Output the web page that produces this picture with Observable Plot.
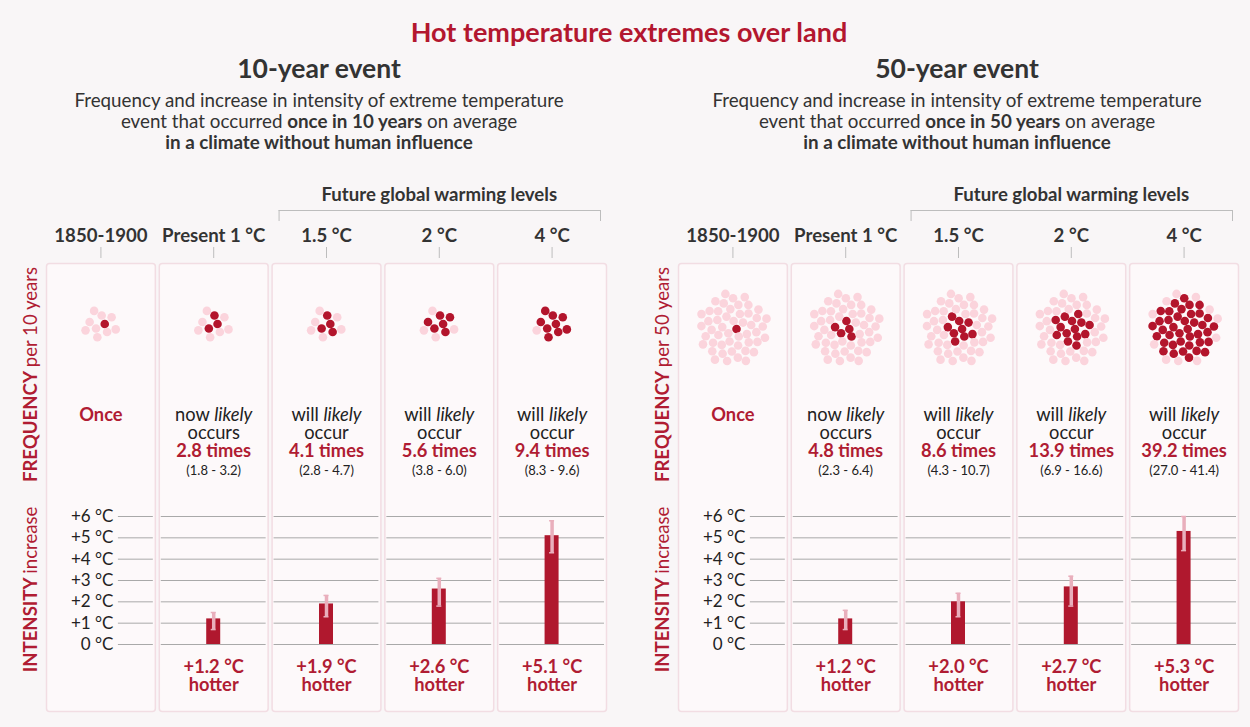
<!DOCTYPE html>
<html><head><meta charset="utf-8">
<script src="https://cdn.jsdelivr.net/npm/d3@7"></script>
<script src="https://cdn.jsdelivr.net/npm/@observablehq/plot@0.6"></script>
<style>
body{margin:0;background:#f9f6f7;font-family:Lato,sans-serif;color:#333;width:1250px;height:727px;position:relative;overflow:hidden}
#title{position:absolute;top:16px;left:4px;width:1250px;text-align:center;font-size:27px;line-height:32px;font-weight:bold;color:#b3172f}
.head{position:absolute;top:50px;width:640px;text-align:center;color:#333}
.head h2{margin:0;font-size:26.5px;font-weight:bold;line-height:36px}
.head p{margin:3px 0 0;font-size:18.8px;line-height:21px}
.panel{position:absolute;top:160px;width:625px;height:557px}
.panel svg{max-width:none !important}
</style></head>
<body>
<div id="title">Hot temperature extremes over land</div>
<div class="head" style="left:-1px"><h2>10-year event</h2><p>Frequency and increase in intensity of extreme temperature<br>event that occurred <b>once in 10 years</b> on average<br><b>in a climate without human influence</b></p></div>
<div class="head" style="left:637px"><h2>50-year event</h2><p>Frequency and increase in intensity of extreme temperature<br>event that occurred <b>once in 50 years</b> on average<br><b>in a climate without human influence</b></p></div>
<div class="panel" id="p10" style="left:0px"></div>
<div class="panel" id="p50" style="left:632px"></div>
<script>
// ---------- data ----------
const periods = ["1850-1900", "Present 1 °C", "1.5 °C", "2 °C", "4 °C"];
const futureLabel = "Future global warming levels";
const yTicks = [0, 1, 2, 3, 4, 5, 6];
const yTickLabels = ["0 °C", "+1 °C", "+2 °C", "+3 °C", "+4 °C", "+5 °C", "+6 °C"];
const verbs = ["", "now", "will", "will", "will"];

const freq10 = [1, 2.8, 4.1, 5.6, 9.4];
const freq10Lo = [null, 1.8, 2.8, 3.8, 8.3];
const freq10Hi = [null, 3.2, 4.7, 6.0, 9.6];
const int10 = [null, 1.2, 1.9, 2.6, 5.1];
const int10Lo = [null, 0.7, 1.3, 1.8, 4.3];
const int10Hi = [null, 1.5, 2.3, 3.1, 5.8];

const freq50 = [1, 4.8, 8.6, 13.9, 39.2];
const freq50Lo = [null, 2.3, 4.3, 6.9, 27.0];
const freq50Hi = [null, 6.4, 10.7, 16.6, 41.4];
const int50 = [null, 1.2, 2.0, 2.7, 5.3];
const int50Lo = [null, 0.7, 1.3, 1.8, 4.4];
const int50Hi = [null, 1.6, 2.4, 3.2, 6.0];

// ---------- layout ----------
const RED = "#b01c33", BAR = "#b0182e", DARK = "#b3152c", LIGHT = "#fbd4dc", ERR = "#e9afbc";
const FS = 18.3;
const SVGTOP = 160, TOP = 263, BOTTOM = 711, Y0 = 644, Y6 = 516;
const k = (Y0 - Y6) / 6;
const yAt = py => (Y0 - py) / k;
const W = 625, ML = 46, MR = 19, H = 557;
const MT = TOP - SVGTOP, MB = SVGTOP + H - BOTTOM;
const P = 0.035;
const step = (W - ML - MR) / (periods.length - P);
const bw = step * (1 - P);

// sunflower layout of n dots (pixel offsets), centre first
function cluster(n, c) {
  const g = Math.PI * (3 - Math.sqrt(5));
  return d3.range(n).map(i => {
    const r = c * Math.sqrt(i + 0.5), a = i * g;
    return {x: r * Math.cos(a), y: r * Math.sin(a)};
  });
}

function panel(cfg) {
  const idx = d3.range(periods.length);
  const later = idx.filter(i => i > 0);
  const fx = i => periods[i];
  const cl = cluster(cfg.total, cfg.spacing);
  const dots = [];
  idx.forEach(i => cl.forEach((c, j) => dots.push({i, x: c.x, y: yAt(cfg.cyPage) - c.y / k, dark: j < Math.round(cfg.freq[i])})));
  const grid = [];
  idx.forEach(i => yTicks.forEach(v => grid.push({i, v})));
  const f1 = d3.format(".1f");
  const txt = {fontSize: FS, frameAnchor: "top", lineAnchor: "middle"};
  const svg = Plot.plot({
    width: W, height: H,
    marginLeft: ML, marginRight: MR, marginTop: MT, marginBottom: MB,
    style: {fontFamily: "Lato, sans-serif", background: "transparent", overflow: "visible", maxWidth: "none"},
    fx: {domain: periods, paddingInner: P, paddingOuter: 0, round: false, axis: null},
    x: {domain: [-bw / 2, bw / 2], axis: null},
    y: {domain: [yAt(BOTTOM), yAt(TOP)], axis: null},
    marks: [
      Plot.frame({fill: "#fdf9fa", stroke: "#f2dde3", strokeWidth: 1.5, rx: 3}),
      // column headers
      Plot.text(idx, {...txt, fx, text: i => periods[i], dy: -27, fontWeight: "bold", fill: "#333", fontSize: 18.6}),
      Plot.ruleX(idx, {fx, x: 0, y1: yAt(247), y2: yAt(258), stroke: "#bdbdbd"}),
      Plot.text([3], {...txt, fx, text: () => futureLabel, dy: -68, fontWeight: "bold", fill: "#333", fontSize: 18.6}),
      Plot.ruleY([3], {fx, y: yAt(210), x1: -step - bw / 2 + 7, x2: step + bw / 2 - 6, stroke: "#bdbdbd"}),
      Plot.ruleX([3], {fx, x: -step - bw / 2 + 7, y1: yAt(210), y2: yAt(221), stroke: "#bdbdbd"}),
      Plot.ruleX([3], {fx, x: step + bw / 2 - 6, y1: yAt(210), y2: yAt(221), stroke: "#bdbdbd"}),
      // side labels
      Plot.text([0], {...txt, fx, x: -69.5, dy: 111, rotate: -90, textAnchor: "middle", text: () => "FREQUENCY " + cfg.per, fill: RED, fontSize: 18.6}),
      Plot.text([0], {...txt, fx, x: -69.5, dy: 326, rotate: -90, textAnchor: "middle", text: () => "INTENSITY increase", fill: RED, fontSize: 18.6}),
      // dots
      Plot.dot(dots, {fx: d => periods[d.i], x: "x", y: "y", r: 4.3, fill: d => d.dark ? DARK : LIGHT, stroke: null}),
      // frequency texts
      Plot.text([0], {...txt, fx, text: () => "Once", dy: 152, fontWeight: "bold", fill: RED}),
      Plot.text(later, {...txt, fx, text: i => verbs[i] + " likely", dy: 152, fill: "#222"}),
      Plot.text(later, {...txt, fx, text: i => verbs[i] === "now" ? "occurs" : "occur", dy: 170, fill: "#222"}),
      Plot.text(later, {...txt, fx, text: i => f1(cfg.freq[i]) + " times", dy: 188, fontWeight: "bold", fill: RED}),
      Plot.text(later, {...txt, fx, text: i => `(${f1(cfg.freqLo[i])} - ${f1(cfg.freqHi[i])})`, dy: 207, fontSize: 13, fill: "#222"}),
      // intensity grid + axis
      Plot.ruleY(grid, {fx: d => periods[d.i], y: "v", x1: d => d.i === 0 ? 17.5 : -bw / 2 + 2, x2: bw / 2 - 2, stroke: "#a9a9a9", strokeWidth: 1}),
      Plot.text(yTicks, {fx: () => periods[0], x: 12.5, y: d => d, text: (d, j) => yTickLabels[j], textAnchor: "end", fontSize: 17, fill: "#222"}),
      // bars
      Plot.rect(later, {fx, x1: -7, x2: 7, y1: 0, y2: i => cfg.int[i], fill: BAR}),
      Plot.ruleX(later, {fx, x: 0, y1: i => cfg.intLo[i], y2: i => cfg.intHi[i], stroke: ERR, strokeWidth: 3.5}),
      Plot.ruleY(later, {fx, y: i => cfg.intLo[i], x1: -2.5, x2: 2.5, stroke: ERR, strokeWidth: 1.5}),
      Plot.ruleY(later, {fx, y: i => cfg.intHi[i], x1: -2.5, x2: 2.5, stroke: ERR, strokeWidth: 1.5}),
      // intensity labels
      Plot.text(later, {...txt, fx, text: i => `+${f1(cfg.int[i])} °C`, dy: 404, fontWeight: "bold", fill: RED}),
      Plot.text(later, {...txt, fx, text: () => "hotter", dy: 422, fontWeight: "bold", fill: RED})
    ]
  });
  // mixed styles inside single texts
  d3.select(svg).selectAll("text").each(function () {
    const t = this.textContent;
    const sel = d3.select(this);
    if (/ likely$/.test(t)) {
      const w = t.replace(/ likely$/, "");
      this.textContent = "";
      sel.append("tspan").text(w + " ");
      sel.append("tspan").attr("font-style", "italic").text("likely");
    } else if (/^(FREQUENCY|INTENSITY) /.test(t)) {
      const sp = t.indexOf(" ");
      this.textContent = "";
      sel.append("tspan").attr("font-weight", "bold").text(t.slice(0, sp) + " ");
      sel.append("tspan").text(t.slice(sp + 1));
    }
  });
  return svg;
}

document.getElementById("p10").append(panel({total: 10, spacing: 5.4, cyPage: 323.5, per: "per 10 years", freq: freq10, freqLo: freq10Lo, freqHi: freq10Hi, int: int10, intLo: int10Lo, intHi: int10Hi}));
document.getElementById("p50").append(panel({total: 50, spacing: 5.1, cyPage: 328.5, per: "per 50 years", freq: freq50, freqLo: freq50Lo, freqHi: freq50Hi, int: int50, intLo: int50Lo, intHi: int50Hi}));
</script>
</body></html>
